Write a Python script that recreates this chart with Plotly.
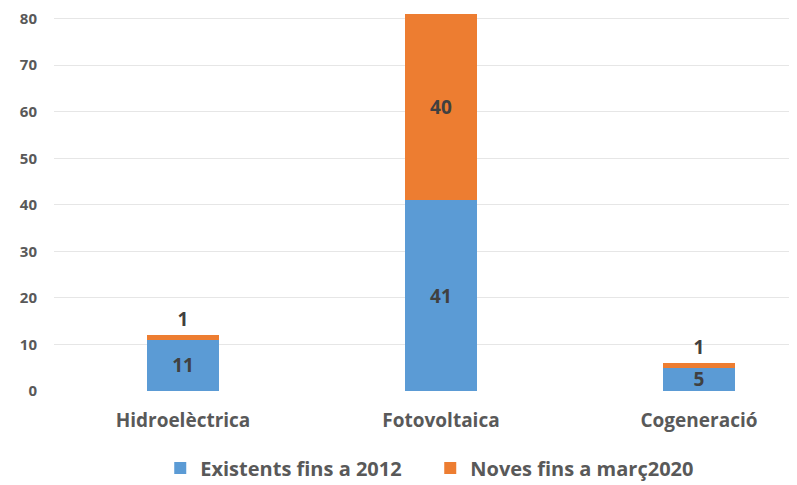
import plotly.graph_objects as go

# dades
categories = ["Hidroelèctrica", "Fotovoltaica", "Cogeneració"]
existents = [11, 41, 5]
noves = [1, 40, 1]
y_ticks = [0, 10, 20, 30, 40, 50, 60, 70, 80]

FONT = "Open Sans"
GRIS = "#595959"
TXT = "#404040"

fig = go.Figure()
fig.add_trace(go.Bar(
    x=categories, y=existents, name="Existents fins a 2012",
    marker=dict(color="#5B9BD5", line=dict(width=0)),
    text=existents, textposition="inside", insidetextanchor="middle",
    textangle=0,
    textfont=dict(family=FONT, size=19, color=TXT, weight="bold"),
    constraintext="none", width=0.28,
))
fig.add_trace(go.Bar(
    x=categories, y=noves, name="Noves fins a març2020",
    marker=dict(color="#ED7D31", line=dict(width=0)),
    text=noves,
    textposition=["outside" if v < 5 else "inside" for v in noves],
    insidetextanchor="middle", textangle=0,
    textfont=dict(family=FONT, size=19, color=TXT, weight="bold"),
    constraintext="none", cliponaxis=False, width=0.28,
))

# la pàgina té 8px de marge al body
fig.update_layout(
    barmode="stack",
    width=797, height=485,
    paper_bgcolor="white", plot_bgcolor="white",
    margin=dict(l=46, r=8, t=6, b=102),
    font=dict(family=FONT, color=GRIS),
    xaxis=dict(
        range=[-0.5, 2.38], showgrid=False, showline=False, automargin=False,
        ticks="outside", ticklen=12, tickcolor="rgba(0,0,0,0)",
        tickfont=dict(family=FONT, size=19, color=GRIS, weight="bold"),
    ),
    yaxis=dict(
        range=[0, 81], tickvals=y_ticks, showgrid=True, automargin=False,
        gridcolor="#e6e6e6", gridwidth=1, zeroline=False, showline=False,
        ticks="outside", ticklen=13, tickcolor="rgba(0,0,0,0)",
        ticklabeloverflow="allow",
        tickfont=dict(family=FONT, size=15, color=GRIS, weight="bold"),
    ),
    legend=dict(
        orientation="h", x=0.143, xanchor="left", y=-0.204, yanchor="middle",
        font=dict(family=FONT, size=20, color=GRIS, weight="bold"),
        itemwidth=30, traceorder="normal",
        entrywidth=225, entrywidthmode="pixels",
    ),
    showlegend=True,
)

fig.write_html("out.html")
